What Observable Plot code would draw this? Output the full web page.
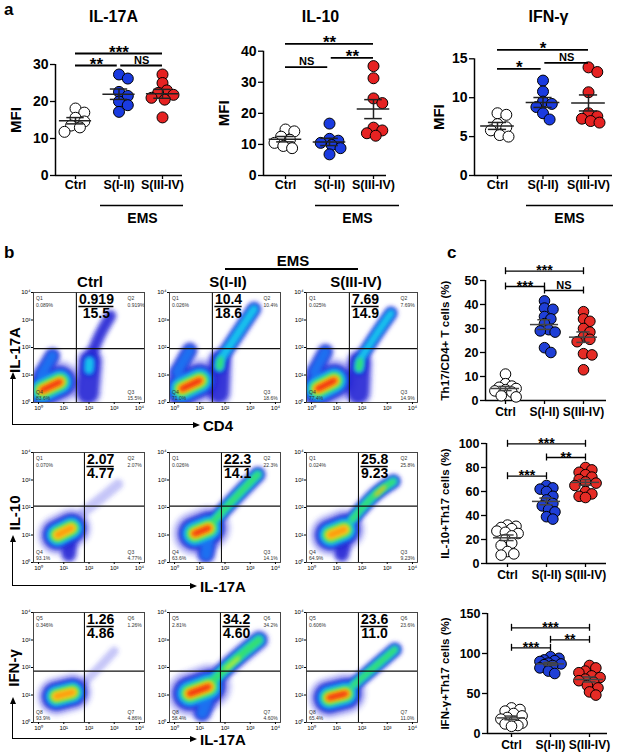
<!DOCTYPE html>
<html><head><meta charset="utf-8">
<script src="https://cdn.jsdelivr.net/npm/d3@7"></script>
<script src="https://cdn.jsdelivr.net/npm/@observablehq/plot@0.6"></script>
<style>
body{margin:0;background:#fff;}
#fig{position:relative;width:625px;height:755px;overflow:hidden;background:#fff;font-family:Arial,"Liberation Sans",sans-serif;}
.lbl{position:absolute;font-weight:bold;white-space:nowrap;color:#000;line-height:1;}
.ln{position:absolute;background:#000;}
</style></head><body><div id="fig"></div>
<script>
// ---------------- DATA ----------------
const categories = ["Ctrl", "S(I-II)", "S(III-IV)"];
// panel a : MFI
const il17a_ctrl = [18.1, 17.0, 15.6, 14.6, 13.5, 13.0, 11.8];
const il17a_s12  = [27.3, 26.2, 22.6, 21.5, 20.0, 19.0, 17.2];
const il17a_s34  = [27.3, 25.0, 23.0, 22.3, 21.8, 21.0, 20.5, 15.7];
const il10_ctrl  = [14.8, 14.2, 12.5, 11.5, 10.5, 9.5, 8.8];
const il10_s12   = [16.7, 11.8, 11.2, 10.5, 9.8, 8.8, 6.8];
const il10_s34   = [35.2, 31.3, 24.8, 23.3, 15.4, 14.5, 13.6, 12.8];
const ifng_ctrl  = [8.0, 7.8, 6.6, 6.2, 5.8, 5.2, 5.0];
const ifng_s12   = [12.2, 10.8, 9.5, 9.2, 8.8, 8.0, 7.2];
const ifng_s34   = [13.9, 13.3, 10.7, 8.0, 7.6, 7.3, 7.0, 6.8];
// panel c : percentages
const th17_ctrl = [11, 7, 6, 5.5, 5, 4.5, 4, 3.5, 2, 1.5];
const th17_s12  = [41.5, 38.5, 38, 35, 34, 32, 29.5, 29, 28.5, 22, 20];
const th17_s34  = [37, 34, 33, 30, 28.5, 26.5, 25.5, 24.5, 19.5, 19, 12.8];
const il10th17_ctrl = [32, 31, 30, 29, 27, 26, 25, 23, 20, 17, 15, 10, 8, 7];
const il10th17_s12  = [65, 63, 62, 60, 56, 53, 50, 48, 45, 43, 39, 37];
const il10th17_s34  = [80, 78, 76, 74, 72, 70, 68, 67, 65, 60, 58, 56, 55];
const ifngth17_ctrl = [32, 30, 28, 25, 22, 20, 18, 15, 13, 12, 10, 9];
const ifngth17_s12  = [96, 94, 92, 91, 90, 88, 87, 86, 85, 82, 78, 75];
const ifngth17_s34  = [85, 82, 78, 76, 72, 70, 68, 66, 64, 60, 57, 52, 48];
// tick labels
const a1Ticks = [0, 10, 20, 30];
const a2Ticks = [0, 10, 20, 30, 40];
const a3Ticks = [0, 5, 10, 15];
const c1Ticks = [0, 10, 20, 30, 40, 50];
const c2Ticks = [0, 20, 40, 60, 80, 100];
const c3Ticks = [0, 50, 100, 150];
// significance comparisons [group1, group2, label]
const a1Sig = [[0, 2, "***"], [0, 1, "**"], [1, 2, "NS"]];
const a2Sig = [[0, 2, "**"], [0, 1, "NS"], [1, 2, "**"]];
const a3Sig = [[0, 2, "*"], [0, 1, "*"], [1, 2, "NS"]];
const c1Sig = [[0, 2, "***"], [0, 1, "***"], [1, 2, "NS"]];
const c2Sig = [[0, 2, "***"], [1, 2, "**"], [0, 1, "***"]];
const c3Sig = [[0, 2, "***"], [1, 2, "**"], [0, 1, "***"]];

// panel b : flow cytometry
const flowCols = ["Ctrl", "S(I-II)", "S(III-IV)"];
const flowYLabels = ["IL-17A", "IL-10", "IFN-γ"];
const flowXLabels = ["CD4", "IL-17A", "IL-17A"];
const flowQuadNames = [["Q1", "Q2", "Q4", "Q3"], ["Q1", "Q2", "Q4", "Q3"], ["Q5", "Q6", "Q8", "Q7"]];
const flowQuadPct = [
  [["0.089%", "0.919%", "83.6%", "15.5%"], ["0.026%", "10.4%", "71.0%", "18.6%"], ["0.025%", "7.69%", "77.4%", "14.9%"]],
  [["0.070%", "2.07%", "93.1%", "4.77%"], ["0.026%", "22.3%", "63.6%", "14.1%"], ["0.024%", "25.8%", "64.9%", "9.23%"]],
  [["0.346%", "1.26%", "93.9%", "4.86%"], ["2.81%", "34.2%", "58.4%", "4.60%"], ["0.606%", "23.6%", "65.4%", "11.0%"]]
];
const flowFractions = [
  [["0.919", "15.5"], ["10.4", "18.6"], ["7.69", "14.9"]],
  [["2.07", "4.77"], ["22.3", "14.1"], ["25.8", "9.23"]],
  [["1.26", "4.86"], ["34.2", "4.60"], ["23.6", "11.0"]]
];
// gate positions (log10 decades)
const flowGateX = [[1.5, 1.5, 1.5], [1.82, 1.86, 1.86], [1.82, 1.82, 1.86]];
const flowGateY = [1.96, 2.05, 1.87];
// cell populations: ridge points in decades, width (decades), peak density level
const flowPops = [
  {row:0,col:0,pts:[[0.15,0.45],[0.85,0.75]],w:1.45,lv:7},
  {row:0,col:0,pts:[[0.1,1.0],[0.55,1.7]],w:0.6,lv:2},
  {row:0,col:0,pts:[[1.95,0.35],[2.05,1.5]],w:0.95,lv:1},
  {row:0,col:0,pts:[[2.0,1.2],[2.02,1.5]],w:0.6,lv:3},
  {row:0,col:0,pts:[[2.05,1.6],[2.4,2.4],[2.85,3.15]],w:0.45,lv:1},
  {row:0,col:1,pts:[[0.3,0.5],[1.0,0.8]],w:1.5,lv:7},
  {row:0,col:1,pts:[[0.1,1.1],[0.6,1.9]],w:0.6,lv:2},
  {row:0,col:1,pts:[[1.75,0.35],[1.8,1.5]],w:0.9,lv:1},
  {row:0,col:1,pts:[[1.78,1.3],[1.82,1.55]],w:0.6,lv:4},
  {row:0,col:1,pts:[[1.85,1.6],[2.5,2.5],[3.15,3.4]],w:0.55,lv:3},
  {row:0,col:2,pts:[[0.25,0.5],[0.9,0.8]],w:1.5,lv:7},
  {row:0,col:2,pts:[[0.1,1.1],[0.55,1.85]],w:0.6,lv:2},
  {row:0,col:2,pts:[[1.85,0.35],[1.9,1.45]],w:0.95,lv:1},
  {row:0,col:2,pts:[[1.88,1.25],[1.92,1.5]],w:0.6,lv:4},
  {row:0,col:2,pts:[[1.95,1.6],[2.55,2.45],[3.15,3.25]],w:0.5,lv:3},
  {row:1,col:0,pts:[[0.75,1.0],[1.3,1.25]],w:1.35,lv:6},
  {row:1,col:0,pts:[[1.2,0.3],[1.25,0.8]],w:0.6,lv:1},
  {row:1,col:0,pts:[[1.8,1.85],[2.5,2.35],[3.15,2.85]],w:0.35,lv:0},
  {row:1,col:1,pts:[[0.8,1.05],[1.35,1.25]],w:1.5,lv:7},
  {row:1,col:1,pts:[[1.25,0.3],[1.35,0.9]],w:0.7,lv:2},
  {row:1,col:1,pts:[[1.55,1.5],[2.4,2.35],[3.3,3.2]],w:0.6,lv:4},
  {row:1,col:2,pts:[[0.75,1.0],[1.3,1.2]],w:1.4,lv:6},
  {row:1,col:2,pts:[[1.2,0.3],[1.3,0.85]],w:0.6,lv:1},
  {row:1,col:2,pts:[[1.6,1.55],[2.55,2.5],[3.25,2.95]],w:0.55,lv:4},
  {row:1,col:2,pts:[[2.55,2.45],[2.9,2.75]],w:0.3,lv:6},
  {row:2,col:0,pts:[[0.7,0.95],[1.35,1.1]],w:1.3,lv:6},
  {row:2,col:0,pts:[[1.8,1.45],[2.4,2.0],[3.0,2.6]],w:0.3,lv:0},
  {row:2,col:1,pts:[[0.6,1.05],[1.35,1.3]],w:1.55,lv:7},
  {row:2,col:1,pts:[[1.1,0.35],[1.3,0.8]],w:0.7,lv:2},
  {row:2,col:1,pts:[[1.5,1.5],[2.3,2.2],[3.35,3.0]],w:0.7,lv:4},
  {row:2,col:1,pts:[[2.05,1.95],[2.55,2.35]],w:0.35,lv:5},
  {row:2,col:2,pts:[[0.7,0.9],[1.35,1.05]],w:1.4,lv:7},
  {row:2,col:2,pts:[[1.65,1.35],[2.6,2.1],[3.3,2.65]],w:0.55,lv:4}
];
const densityColors = ["#4040e8", "#2222d2", "#1f6ff0", "#12c4ec", "#34e070", "#eaf020", "#ff9a10", "#f01c10"];
const densityFactor = [1.15, 0.86, 0.68, 0.54, 0.41, 0.3, 0.2, 0.11];
const densityOpacity = [0.3, 0.85, 1, 1, 1, 1, 1, 1];
const decadeTicks = [0, 1, 2, 3, 4];

// ---------------- HELPERS ----------------
const FONT = 'Arial, "Liberation Sans", sans-serif';
const fig = document.getElementById("fig");
const svgStyle = {background: "transparent", overflow: "visible", fontFamily: FONT, color: "black"};
function put(node, left, top) { node.style.position = "absolute"; node.style.left = left + "px"; node.style.top = top + "px"; fig.appendChild(node); }
function label(t, x, y, size, opt = {}) {
  const d = document.createElement("div");
  d.className = "lbl"; d.textContent = t; d.style.fontSize = size + "px";
  d.style.left = x + "px"; d.style.top = y + "px";
  const tx = opt.anchor === "start" ? "0" : "-50%";
  d.style.transform = `translate(${tx},-50%)` + (opt.rot ? ` rotate(${opt.rot}deg)` : "");
  fig.appendChild(d);
}
function line(x, y, w, h) { const d = document.createElement("div"); d.className = "ln"; d.style.left = x + "px"; d.style.top = y + "px"; d.style.width = w + "px"; d.style.height = h + "px"; fig.appendChild(d); }
function tri(x, y, dir) {
  const d = document.createElement("div"); d.style.position = "absolute"; d.style.width = "0"; d.style.height = "0";
  if (dir === "up") { d.style.borderLeft = "3px solid transparent"; d.style.borderRight = "3px solid transparent"; d.style.borderBottom = "7px solid #000"; d.style.left = (x - 2.4) + "px"; d.style.top = y + "px"; }
  else { d.style.borderTop = "3px solid transparent"; d.style.borderBottom = "3px solid transparent"; d.style.borderLeft = "7px solid #000"; d.style.left = (x - 7) + "px"; d.style.top = (y - 2.4) + "px"; }
  fig.appendChild(d);
}
function arrowL(x, yTop, yCorner, xEnd) {
  line(x, yTop + 5, 1.2, yCorner - yTop - 5);
  line(x, yCorner, xEnd - x - 5, 1.2);
  tri(x + 0.6, yTop, "up");
  tri(xEnd, yCorner + 0.6, "right");
}

// ---------------- DOT PLOTS (panels a, c) ----------------
function dotPlot(cfg) {
  const ky = (cfg.y0 - cfg.yTop) / cfg.ymax;
  const val = py => (cfg.y0 - py) / ky;
  const idx = px => (px - cfg.ctrlX) / cfg.step;
  const x0 = idx(cfg.axisX), x1 = idx(cfg.xEnd);
  const marginLeft = cfg.axisX - cfg.left, marginTop = cfg.yTop - cfg.top, marginRight = 8;
  const width = marginLeft + (cfg.xEnd - cfg.axisX) + marginRight;
  const height = marginTop + (cfg.y0 - cfg.yTop) + cfg.marginBottom;
  const r = cfg.r;
  const points = [];
  // compact swarm layout (pixel offsets only; values untouched)
  cfg.groups.forEach((vals, gi) => {
    const placed = [];
    [...vals].sort((a, b) => b - a).forEach(v => {
      const py = v * ky;
      let best = 0, bestD = -1;
      const nSteps = Math.floor(cfg.spread / (r * 0.4));
      for (let k = 0; k <= 2 * nSteps; k++) {
        const cand = (k % 2 ? 1 : -1) * Math.ceil(k / 2) * r * 0.4;
        const dmin = placed.length ? Math.min(...placed.map(p => Math.hypot(p.dx - cand, p.py - py))) : Infinity;
        if (dmin >= cfg.sep * r) { best = cand; bestD = Infinity; break; }
        if (dmin > bestD) { bestD = dmin; best = cand; }
      }
      placed.push({dx: best, py});
      points.push({g: gi, v, x: gi + best / cfg.step});
    });
  });
  const stats = cfg.groups.map((vals, gi) => {
    const m = d3.mean(vals), s = d3.deviation(vals) / Math.sqrt(vals.length);
    return {g: gi, m, lo: m - s, hi: m + s};
  });
  const sig = cfg.sig.map(([g1, g2, t], i) => ({x1: g1 + (g1 === 1 ? cfg.gap : 0), x2: g2 - (g2 === 1 ? cfg.gap : 0), y: val(cfg.sigY[i]), t}));
  const caps = stats.flatMap(d => [{g: d.g, y: d.lo}, {g: d.g, y: d.hi}]);
  const marks = [
    Plot.axisY({ticks: cfg.ticks, tickSize: 5, tickPadding: 2, fontSize: cfg.tickFont, fontWeight: "bold", label: null, strokeWidth: 1.3}),
    Plot.axisX({ticks: [0, 1, 2], tickFormat: i => categories[i], tickSize: 4, tickPadding: cfg.catPad, fontSize: cfg.catFont, fontWeight: "bold", label: null, strokeWidth: 1.3}),
    Plot.ruleX([x0], {y1: 0, y2: cfg.ymax, strokeWidth: 1.5}),
    Plot.ruleY([0], {x1: x0, x2: x1, strokeWidth: 1.5}),
    Plot.dot(points, {x: "x", y: "v", r, fill: d => cfg.colors[d.g], stroke: "black", strokeWidth: 1}),
    Plot.ruleY(stats, {x1: d => d.g - cfg.meanW, x2: d => d.g + cfg.meanW, y: "m", stroke: cfg.statColor, strokeWidth: 1.5}),
    Plot.ruleX(stats, {x: "g", y1: "lo", y2: "hi", stroke: cfg.statColor, strokeWidth: 1.5}),
    Plot.ruleY(caps, {x1: d => d.g - cfg.capW, x2: d => d.g + cfg.capW, y: "y", stroke: cfg.statColor, strokeWidth: 1.5}),
    Plot.ruleY(sig, {x1: "x1", x2: "x2", y: "y", strokeWidth: cfg.sigW}),
    Plot.text(sig.filter(d => d.t !== "NS"), {x: d => (d.x1 + d.x2) / 2, y: "y", text: "t", lineAnchor: "bottom", dy: cfg.starDy, fontSize: cfg.starFont, fontWeight: "bold"}),
    Plot.text(sig.filter(d => d.t === "NS"), {x: d => (d.x1 + d.x2) / 2, y: "y", text: "t", lineAnchor: "bottom", dy: -2, fontSize: 11, fontWeight: "bold"}),
    Plot.text([cfg.label], {x: () => idx(cfg.labelX), y: () => cfg.ymax / 2, text: d => d, rotate: -90, fontSize: cfg.labelFont, fontWeight: "bold"})
  ];
  if (cfg.capPx) {
    const ends = sig.flatMap(d => [{x: d.x1, y: d.y}, {x: d.x2, y: d.y}]);
    marks.push(Plot.ruleX(ends, {x: "x", y1: d => d.y - cfg.capPx / ky, y2: d => d.y + cfg.capPx / ky, strokeWidth: cfg.sigW}));
  }
  if (cfg.title) marks.push(Plot.text([cfg.title], {x: d => idx(d.x), y: d => val(d.y), text: "t", fontSize: 16, fontWeight: "bold"}));
  if (cfg.ems) {
    marks.push(Plot.ruleY([cfg.ems], {x1: d => idx(d.x1), x2: d => idx(d.x2), y: d => val(d.y), strokeWidth: 1.6}));
    marks.push(Plot.text([cfg.ems], {x: d => idx(d.tx), y: d => val(d.ty), text: () => "EMS", fontSize: 14, fontWeight: "bold"}));
  }
  const chart = Plot.plot({
    width, height, marginLeft, marginTop, marginRight, marginBottom: cfg.marginBottom,
    x: {domain: [x0, x1]}, y: {domain: [0, cfg.ymax]}, color: {type: "identity"},
    style: svgStyle, marks
  });
  put(chart, cfg.left, cfg.top);
}

const aColors = ["#ffffff", "#1a3be0", "#e62222"];
const cColors = ["#ffffff", "#1f3fd6", "#e52b25"];
const aCommon = {top: 0, y0: 175, marginBottom: 52, r: 5.5, tickFont: 14, catFont: 12.5, catPad: 1, labelFont: 15, colors: aColors,
  meanW: 0.37, capW: 0.2, statColor: "#222", sigW: 1.8, starFont: 17, starDy: 4, gap: 0.04, sep: 1.5, spread: 13};
dotPlot({...aCommon, left: 0, axisX: 55, ctrlX: 75, step: 43.5, yTop: 64, ymax: 30, xEnd: 182, ticks: a1Ticks,
  groups: [il17a_ctrl, il17a_s12, il17a_s34], label: "MFI", labelX: 16, sig: a1Sig, sigY: [53, 65, 65],
  title: {t: "IL-17A", x: 113, y: 16}, ems: {x1: 100, x2: 183, y: 205, tx: 142, ty: 218}});
dotPlot({...aCommon, left: 208, axisX: 263, ctrlX: 285, step: 44, yTop: 50.7, ymax: 40, xEnd: 386, ticks: a2Ticks,
  groups: [il10_ctrl, il10_s12, il10_s34], label: "MFI", labelX: 224, sig: a2Sig, sigY: [43.3, 66.7, 57.3],
  title: {t: "IL-10", x: 320, y: 16}, ems: {x1: 315, x2: 399, y: 205, tx: 357, ty: 218}});
dotPlot({...aCommon, left: 419, axisX: 474, ctrlX: 497, step: 45.5, yTop: 58.3, ymax: 15, xEnd: 612, ticks: a3Ticks,
  groups: [ifng_ctrl, ifng_s12, ifng_s34], label: "MFI", labelX: 439, sig: a3Sig, sigY: [49.3, 68.3, 62.3],
  title: {t: "IFN-γ", x: 548, y: 16}, ems: {x1: 526, x2: 613, y: 205, tx: 569, ty: 218}});

const cCommon = {left: 420, marginBottom: 24, r: 5.3, tickFont: 12.5, catFont: 12, catPad: 3, labelFont: 11.5, colors: cColors,
  meanW: 0.36, capW: 0.17, statColor: "#444", sigW: 1.3, starFont: 14, starDy: 4, gap: 0, capPx: 3.5, labelX: 445, sep: 1.25, spread: 12};
dotPlot({...cCommon, top: 240, axisX: 485, ctrlX: 505, step: 39, y0: 400, yTop: 280, ymax: 50, xEnd: 606, ticks: c1Ticks,
  groups: [th17_ctrl, th17_s12, th17_s34], label: "Th17/CD4+ T cells (%)", sig: c1Sig, sigY: [270.7, 286, 290]});
dotPlot({...cCommon, top: 420, axisX: 486, ctrlX: 507, step: 39, y0: 563, yTop: 443, ymax: 100, xEnd: 606, ticks: c2Ticks,
  groups: [il10th17_ctrl, il10th17_s12, il10th17_s34], label: "IL-10+Th17 cells (%)", sig: c2Sig, sigY: [443.3, 457, 475.7]});
dotPlot({...cCommon, top: 595, axisX: 487, ctrlX: 511, step: 39, y0: 733, yTop: 613, ymax: 150, xEnd: 607, ticks: c3Ticks,
  groups: [ifngth17_ctrl, ifngth17_s12, ifngth17_s34], label: "IFN-γ+Th17 cells (%)", sig: c3Sig, sigY: [627.3, 639.3, 647.3]});

// ---------------- FLOW PLOTS (panel b) ----------------
const flowFrameLeft = [33, 169, 306];
const flowFrameTop = [292, 452, 612];
const FW = 111, FH = 110;
const XD = [-0.2, 4.2], YD = [0, 4];
const kx = FW / (XD[1] - XD[0]), kyF = FH / (YD[1] - YD[0]);
const sup = ["\u2070", "\u00b9", "\u00b2", "\u00b3", "\u2074"];
let blurId = 0;
function flowPlot(ri, ci) {
  const mL = 22, mT = 3, mR = 3, mB = 13;
  const W = mL + FW + mR, H = mT + FH + mB;
  const gx = flowGateX[ri][ci], gy = flowGateY[ri];
  const pops = flowPops.filter(p => p.row === ri && p.col === ci);
  const rows = pops.flatMap((p, pi) => p.pts.map(([x, y]) => ({pid: pi, x, y, w: p.w, lv: p.lv})));
  const layers = densityColors.map((col, k) => Plot.line(rows.filter(d => d.lv >= k), {
    x: "x", y: "y", z: "pid", stroke: col, strokeOpacity: densityOpacity[k],
    strokeWidth: d => d.w * 26 * densityFactor[k], strokeLinecap: "round", strokeLinejoin: "round", curve: "catmull-rom", clip: true
  }));
  const q = flowQuadNames[ri], p = flowQuadPct[ri][ci];
  const qLeft = XD[0] + 2.5 / kx, qRight = XD[1] - 17 / kx;
  const topQ = [{x: qLeft, t: `${q[0]}\n${p[0]}`}, {x: qRight, t: `${q[1]}\n${p[1]}`}];
  const botQ = [{x: qLeft, t: `${q[2]}\n${p[2]}`}, {x: qRight, t: `${q[3]}\n${p[3]}`}];
  const [num, den] = flowFractions[ri][ci];
  const fs = 14;
  const wpx = [...num].reduce((s, ch) => s + (ch === "." ? 0.278 : 0.556), 0) * fs;
  const nx = gx + 2.5 / kx;
  const chart = Plot.plot({
    width: W, height: H, marginLeft: mL, marginTop: mT, marginRight: mR, marginBottom: mB,
    x: {domain: XD}, y: {domain: YD}, style: svgStyle,
    marks: [
      ...layers,
      Plot.ruleX([gx], {stroke: "#111", strokeWidth: 1.1}),
      Plot.ruleY([gy], {stroke: "#111", strokeWidth: 1.1}),
      Plot.frame({stroke: "#333", strokeWidth: 0.9}),
      Plot.text(topQ, {x: "x", y: () => YD[1] - 3.5 / kyF, text: "t", textAnchor: "start", lineAnchor: "top", fontSize: 5, lineHeight: 1.25, fill: "#333"}),
      Plot.text(botQ, {x: "x", y: () => YD[0] + 2.5 / kyF, text: "t", textAnchor: "start", lineAnchor: "bottom", fontSize: 5, lineHeight: 1.25, fill: "#333"}),
      Plot.text([num], {x: () => nx, y: () => YD[1] - 7 / kyF, text: d => d, textAnchor: "start", fontSize: fs, fontWeight: "bold"}),
      Plot.ruleY([YD[1] - 14 / kyF], {x1: nx, x2: nx + wpx / kx, strokeWidth: 1.5}),
      Plot.text([den], {x: () => nx + wpx / 2 / kx, y: () => YD[1] - 21.5 / kyF, text: d => d, textAnchor: "middle", fontSize: fs, fontWeight: "bold"}),
      Plot.axisX({ticks: decadeTicks, tickFormat: d => "10" + sup[d], tickSize: 2, tickPadding: 1, fontSize: 6, label: null}),
      Plot.axisY({ticks: decadeTicks, tickFormat: d => "10" + sup[d], tickSize: 2, tickPadding: 1, fontSize: 6, label: null})
    ]
  });
  // soften the density layers (filter region covers the whole chart)
  const ns = "http://www.w3.org/2000/svg";
  const id = "flowblur" + (blurId++);
  const defs = document.createElementNS(ns, "defs");
  const filt = document.createElementNS(ns, "filter");
  filt.setAttribute("id", id); filt.setAttribute("filterUnits", "userSpaceOnUse");
  filt.setAttribute("x", "0"); filt.setAttribute("y", "0"); filt.setAttribute("width", W); filt.setAttribute("height", H);
  const blur = document.createElementNS(ns, "feGaussianBlur"); blur.setAttribute("stdDeviation", "2.1");
  filt.appendChild(blur); defs.appendChild(filt); chart.insertBefore(defs, chart.firstChild);
  chart.querySelectorAll('g[aria-label="line"]').forEach(g => g.setAttribute("filter", `url(#${id})`));
  put(chart, flowFrameLeft[ci] - mL, flowFrameTop[ri] - mT);
}
for (let ri = 0; ri < 3; ri++) for (let ci = 0; ci < 3; ci++) flowPlot(ri, ci);

// ---------------- TEXT / DECORATION ----------------
label("a", 4, 9, 17, {anchor: "start"});
label("b", 4, 252, 17, {anchor: "start"});
label("c", 447, 252, 17, {anchor: "start"});
label("EMS", 293, 260, 15);
line(225, 268, 133, 1.6);
label(flowCols[0], 90, 281, 15);
label(flowCols[1], 228, 281, 15);
label(flowCols[2], 356, 281, 15);
label(flowYLabels[0], 14, 350, 15, {rot: -90});
label(flowYLabels[1], 14, 513, 15, {rot: -90});
label(flowYLabels[2], 13, 668, 15, {rot: -90});
arrowL(12, 372, 424, 200); label(flowXLabels[0], 203, 425, 15, {anchor: "start"});
arrowL(12, 535, 585, 197); label(flowXLabels[1], 200, 586, 15, {anchor: "start"});
arrowL(12, 697, 738, 197); label(flowXLabels[2], 200, 739, 15, {anchor: "start"});
</script></body></html>
